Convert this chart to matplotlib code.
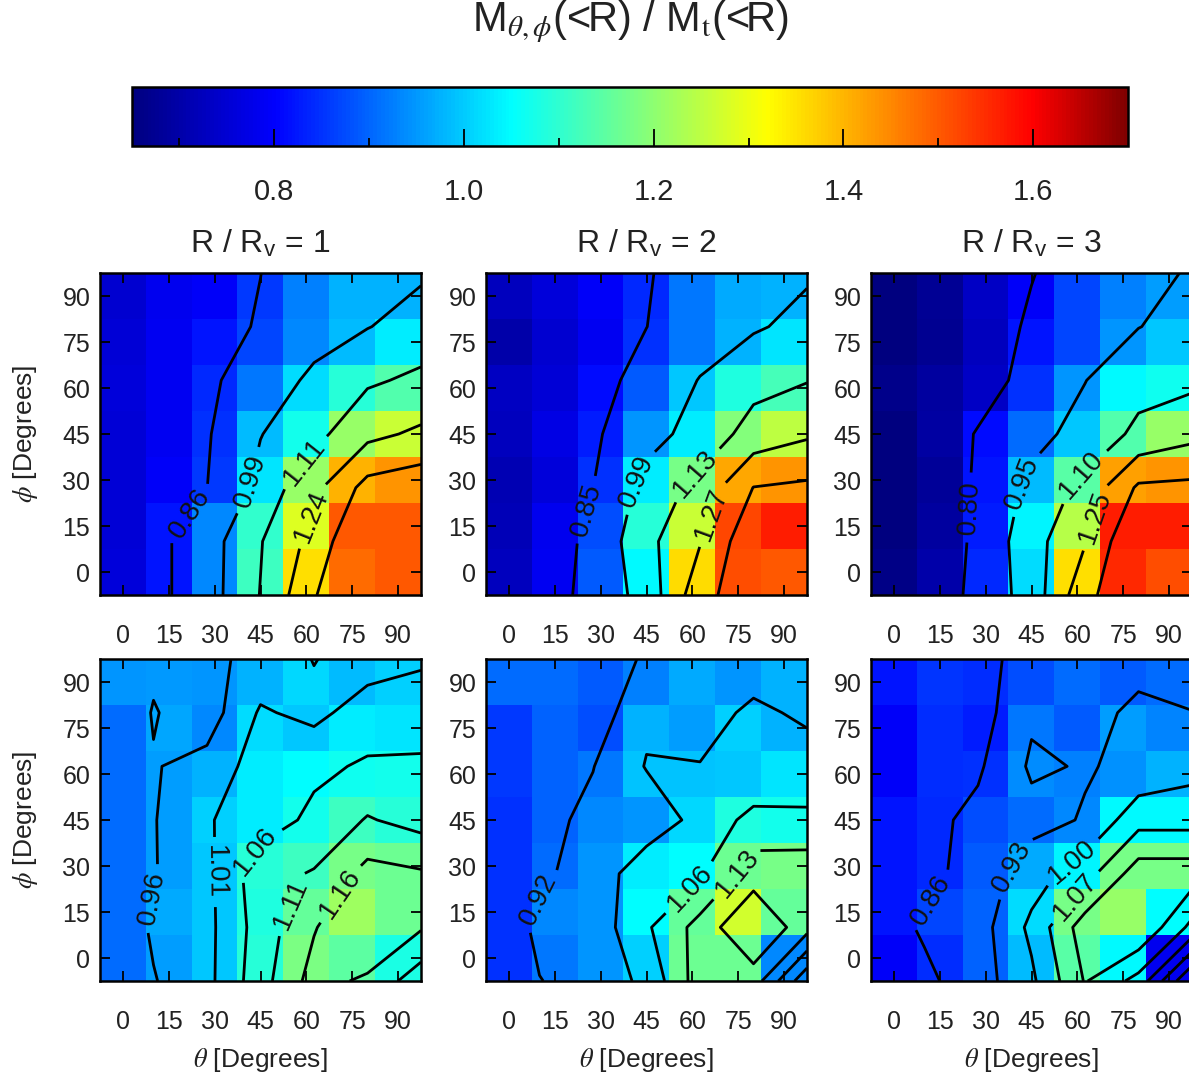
import numpy as np
import matplotlib.pyplot as plt
from matplotlib.colors import LinearSegmentedColormap, Normalize
from matplotlib.cm import ScalarMappable

plt.rcParams['font.family'] = ['Liberation Sans', 'DejaVu Sans']
plt.rcParams['mathtext.fontset'] = 'stix'

# Data: rows are phi = 0..90 (bottom to top), columns theta = 0..90
angles = [0, 15, 30, 45, 60, 75, 90]

top_r1 = [[0.759, 0.820, 0.937, 1.114, 1.353, 1.479, 1.501],
          [0.753, 0.820, 0.937, 1.103, 1.283, 1.501, 1.501],
          [0.753, 0.794, 0.859, 1.025, 1.209, 1.402, 1.435],
          [0.753, 0.788, 0.849, 0.986, 1.071, 1.209, 1.262],
          [0.759, 0.788, 0.839, 0.918, 1.016, 1.092, 1.135],
          [0.753, 0.788, 0.820, 0.869, 0.937, 0.986, 1.035],
          [0.747, 0.782, 0.794, 0.859, 0.927, 0.976, 0.976]]

top_r2 = [[0.724, 0.788, 0.888, 1.045, 1.358, 1.513, 1.501],
          [0.718, 0.782, 0.878, 1.092, 1.262, 1.523, 1.567],
          [0.712, 0.759, 0.849, 1.035, 1.177, 1.413, 1.435],
          [0.724, 0.771, 0.829, 0.947, 1.035, 1.188, 1.251],
          [0.729, 0.753, 0.810, 0.888, 0.996, 1.082, 1.124],
          [0.700, 0.747, 0.788, 0.849, 0.918, 0.976, 1.025],
          [0.724, 0.759, 0.794, 0.839, 0.918, 0.967, 0.976]]

top_r3 = [[0.659, 0.700, 0.839, 1.016, 1.353, 1.556, 1.513],
          [0.653, 0.688, 0.829, 1.040, 1.241, 1.567, 1.567],
          [0.653, 0.682, 0.820, 0.986, 1.145, 1.424, 1.435],
          [0.650, 0.694, 0.810, 0.908, 0.996, 1.135, 1.209],
          [0.665, 0.688, 0.735, 0.849, 0.947, 1.045, 1.066],
          [0.650, 0.671, 0.724, 0.820, 0.869, 0.947, 0.996],
          [0.650, 0.676, 0.735, 0.794, 0.869, 0.927, 0.957]]

bot_r1 = [[0.908, 0.957, 0.996, 1.090, 1.180, 1.150, 1.080],
          [0.908, 0.967, 0.996, 1.082, 1.156, 1.219, 1.165],
          [0.908, 0.957, 0.996, 1.092, 1.114, 1.177, 1.166],
          [0.908, 0.957, 1.006, 1.035, 1.071, 1.114, 1.092],
          [0.908, 0.957, 0.976, 1.035, 1.050, 1.066, 1.071],
          [0.908, 0.963, 0.935, 1.016, 0.996, 1.035, 1.025],
          [0.947, 0.950, 0.947, 0.976, 1.012, 0.986, 1.006]]

bot_r2 = [[0.849, 0.918, 0.947, 1.006, 1.166, 1.166, 0.937],
          [0.849, 0.937, 0.947, 1.050, 1.156, 1.272, 1.156],
          [0.849, 0.908, 0.947, 1.035, 1.050, 1.166, 1.177],
          [0.849, 0.898, 0.937, 0.947, 1.012, 1.082, 1.071],
          [0.859, 0.898, 0.918, 0.994, 0.993, 0.996, 1.025],
          [0.859, 0.898, 0.878, 0.976, 0.957, 1.006, 0.976],
          [0.908, 0.908, 0.888, 0.927, 0.967, 0.947, 0.976]]

bot_r3 = [[0.794, 0.845, 0.898, 0.986, 1.145, 1.045, 0.785],
          [0.820, 0.869, 0.898, 1.016, 1.177, 1.209, 1.050],
          [0.820, 0.839, 0.888, 0.967, 1.040, 1.177, 1.177],
          [0.820, 0.839, 0.878, 0.908, 0.935, 1.045, 1.045],
          [0.794, 0.845, 0.850, 0.940, 0.925, 0.945, 0.976],
          [0.794, 0.845, 0.829, 0.920, 0.888, 0.957, 0.931],
          [0.820, 0.852, 0.845, 0.878, 0.908, 0.888, 0.908]]

panels = [top_r1, top_r2, top_r3, bot_r1, bot_r2, bot_r3]

levels = [[0.86, 0.99, 1.11, 1.24, 1.36],
          [0.85, 0.99, 1.13, 1.27, 1.41],
          [0.80, 0.95, 1.10, 1.25, 1.40],
          [0.96, 1.01, 1.06, 1.11, 1.16],
          [0.92, 0.99, 1.06, 1.13, 1.20],
          [0.86, 0.93, 1.00, 1.07, 1.14]]

# labelled levels and rough label spots (theta, phi)
label_spots = [{0.86: (19, 21), 0.99: (36, 31), 1.11: (58, 37), 1.24: (60, 19)},
               {0.85: (23, 21), 0.99: (41, 30), 1.13: (61, 32), 1.27: (66, 19)},
               {0.80: (25, 21), 0.95: (42, 29), 1.10: (61, 32), 1.25: (65, 18)},
               {0.96: (6, 20), 1.01: (26, 28), 1.06: (43, 35), 1.11: (47, 21), 1.16: (68, 23)},
               {0.92: (10, 19), 1.06: (58, 24), 1.13: (74, 28)},
               {0.86: (12, 19), 0.93: (38, 30), 1.00: (58, 32), 1.07: (58, 21)}]

radii = [1, 2, 3]
cbar_ticks = [0.8, 1.0, 1.2, 1.4, 1.6]
cbar_minor = [0.7, 0.9, 1.1, 1.3, 1.5]
vmin, vmax = 0.65, 1.70

# jet-like colour table matched to the colour bar
cmap = LinearSegmentedColormap.from_list('jetlike', [
    (0.0, (0, 0, 0.5)),
    ((0.80 - vmin) / (vmax - vmin), (0, 0, 1)),
    ((1.05 - vmin) / (vmax - vmin), (0, 1, 1)),
    ((1.32 - vmin) / (vmax - vmin), (1, 1, 0)),
    ((1.60 - vmin) / (vmax - vmin), (1, 0, 0)),
    (1.0, (0.5, 0, 0))])
norm = Normalize(vmin=vmin, vmax=vmax)

W, H = 1189, 1078
fig = plt.figure(figsize=(W / 100, H / 100), dpi=100)

lefts = [100, 486, 871]
tops = [273, 659]
aw, ah = 321, 322
grid = np.linspace(-7.5, 97.5, 7)

for i, data in enumerate(panels):
    r, c = divmod(i, 3)
    ax = fig.add_axes([lefts[c] / W, 1 - (tops[r] + ah) / H, aw / W, ah / H])
    z = np.array(data)
    ax.imshow(z, origin='lower', extent=(-7.5, 97.5, -7.5, 97.5), cmap=cmap, norm=norm,
              interpolation='nearest', aspect='auto')
    # one contour set per level so each label lands on its own line
    for lev in levels[i]:
        cs = ax.contour(grid, grid, z, levels=[lev], colors='k', linewidths=2)
        if lev in label_spots[i]:
            ax.clabel(cs, manual=[label_spots[i][lev]], fmt='%.2f', fontsize=20,
                      inline=True, inline_spacing=8, colors='#111111')
    ax.set_xlim(-7.5, 97.5)
    ax.set_ylim(-7.5, 97.5)
    ax.set_xticks(angles)
    ax.set_yticks(angles)
    ax.tick_params(direction='in', length=7, width=1.3, top=True, right=True,
                   labelsize=18, colors='k', labelcolor='#222222')
    ax.tick_params(axis='x', pad=21)
    ax.tick_params(axis='y', pad=7)
    for s in ax.spines.values():
        s.set_linewidth(1.8)
    if r == 0:
        ax.text(0.5, 1 + 29 / ah, r'R / R$_\mathregular{v}$ = %d' % radii[c], transform=ax.transAxes,
                ha='center', va='center', fontsize=23, color='#222222')
    if c == 0:
        fig.text(25 / W, 1 - (tops[r] + ah / 2) / H, r'$\phi$ [Degrees]', rotation=90,
                 ha='center', va='center', fontsize=19, color='#222222')
    if r == 1:
        fig.text((lefts[c] + aw / 2) / W, 1 - 1060 / H, r'$\theta$ [Degrees]',
                 ha='center', va='center', fontsize=19, color='#222222')

# colour bar
cax = fig.add_axes([132 / W, 1 - 146 / H, 996 / W, 59 / H])
cb = fig.colorbar(ScalarMappable(norm=norm, cmap=cmap), cax=cax, orientation='horizontal')
cb.set_ticks(cbar_ticks)
cb.set_ticklabels(['%.1f' % t for t in cbar_ticks])
cax.set_xticks(cbar_minor, minor=True)
cax.tick_params(which='major', direction='in', length=12, width=1.3, labelsize=21,
                pad=23, labelcolor='#222222')
cax.tick_params(which='minor', direction='in', length=6, width=1.3)
cb.outline.set_linewidth(1.8)

fig.text(630 / W, 1 - 22 / H, r'M$_{\theta,\phi}$(<R) / M$_{\rm t}$(<R)', ha='center', va='center',
         fontsize=30, color='#222222')

fig.savefig('out.png', dpi=100)
